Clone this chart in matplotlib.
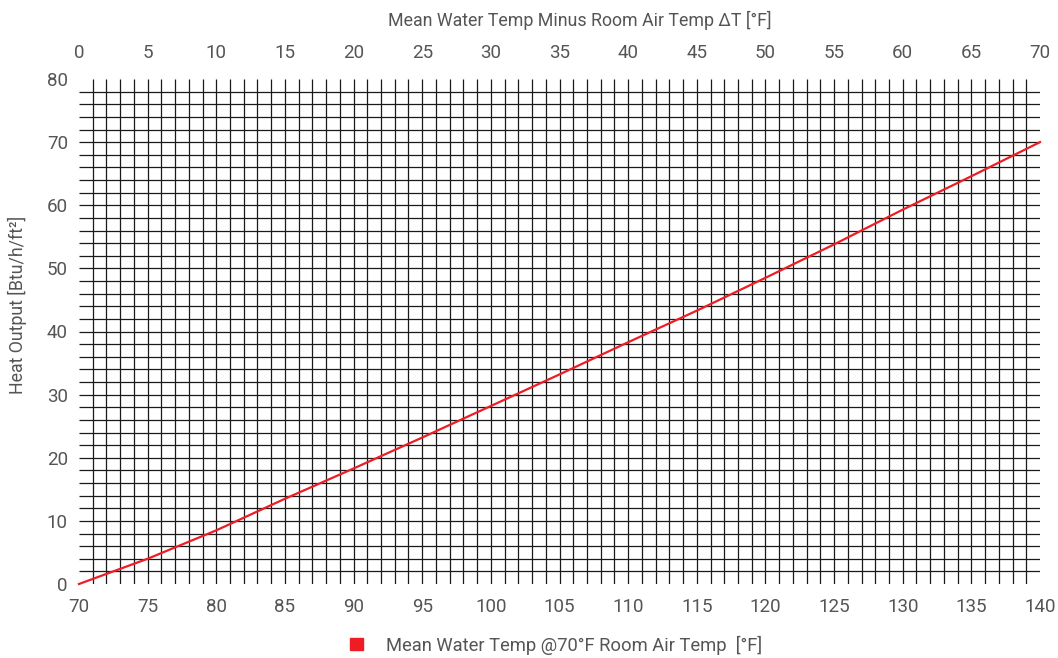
import matplotlib
matplotlib.use("Agg")
import matplotlib.pyplot as plt
from matplotlib.patches import Patch
import numpy as np

plt.rcParams['font.family'] = ['Roboto', 'DejaVu Sans']

# Data
mean_water_temp = [70, 75, 80, 85, 90, 95, 100, 105, 110, 115, 120, 125, 130, 135, 140]
heat_output = [0, 4.0, 8.5, 13.5, 18.3, 23.2, 28.2, 33.2, 38.3, 43.3, 48.5, 53.8, 59.3, 64.6, 70.0]
room_temp = 70
x_ticks = list(range(70, 141, 5))
top_ticks = list(range(0, 71, 5))
y_ticks = list(range(0, 81, 10))

series_label = "Mean Water Temp @70°F Room Air Temp  [°F]"
top_label = "Mean Water Temp Minus Room Air Temp ΔT [°F]"
y_label = "Heat Output [Btu/h/ft²]"

RED = "#ee1d25"
TXT = "#555555"

fig = plt.figure(figsize=(10.58, 6.58), dpi=100)
ax = fig.add_axes([79/1058, 1-584/658, (1040-79)/1058, (584-79)/658])

ax.set_xlim(70, 140)
ax.set_ylim(0, 80)

# dense grid (no lines on the borders)
ax.vlines(np.arange(71, 140, 1), 0, 80, colors="#1a1a1a", linewidth=0.9, zorder=1)
ax.hlines(np.arange(2, 80, 2), 70, 140, colors="#1a1a1a", linewidth=0.9, zorder=1)

ax.plot(mean_water_temp, heat_output, color=RED, linewidth=1.6, zorder=3, clip_on=False)

for s in ax.spines.values():
    s.set_visible(False)

ax.set_xticks(x_ticks)
ax.set_yticks(y_ticks)
ax.tick_params(axis='x', length=0, pad=10, labelsize=13.5, labelcolor=TXT)
ax.tick_params(axis='y', length=0, pad=8, labelsize=13.5, labelcolor=TXT)

sec = ax.secondary_xaxis('top', functions=(lambda x: x - room_temp, lambda x: x + room_temp))
sec.set_xticks(top_ticks)
sec.tick_params(axis='x', length=0, pad=12, labelsize=13.5, labelcolor=TXT)
for s in sec.spines.values():
    s.set_visible(False)

fig.text(579.5/1058, 1-20/658, top_label, fontsize=12.8, color=TXT, ha='center', va='center')
fig.text(17/1058, 1-305/658, y_label, fontsize=12.8, color=TXT, ha='center', va='center',
         rotation=90)

handle = Patch(facecolor=RED, edgecolor=RED, label=series_label)
fig.legend(handles=[handle], loc='center', bbox_to_anchor=(556/1058, 1-645/658),
           frameon=False, fontsize=13.2, handlelength=0.68, handleheight=0.68,
           handletextpad=1.25, labelcolor=TXT)

fig.savefig("out.png", dpi=100)
